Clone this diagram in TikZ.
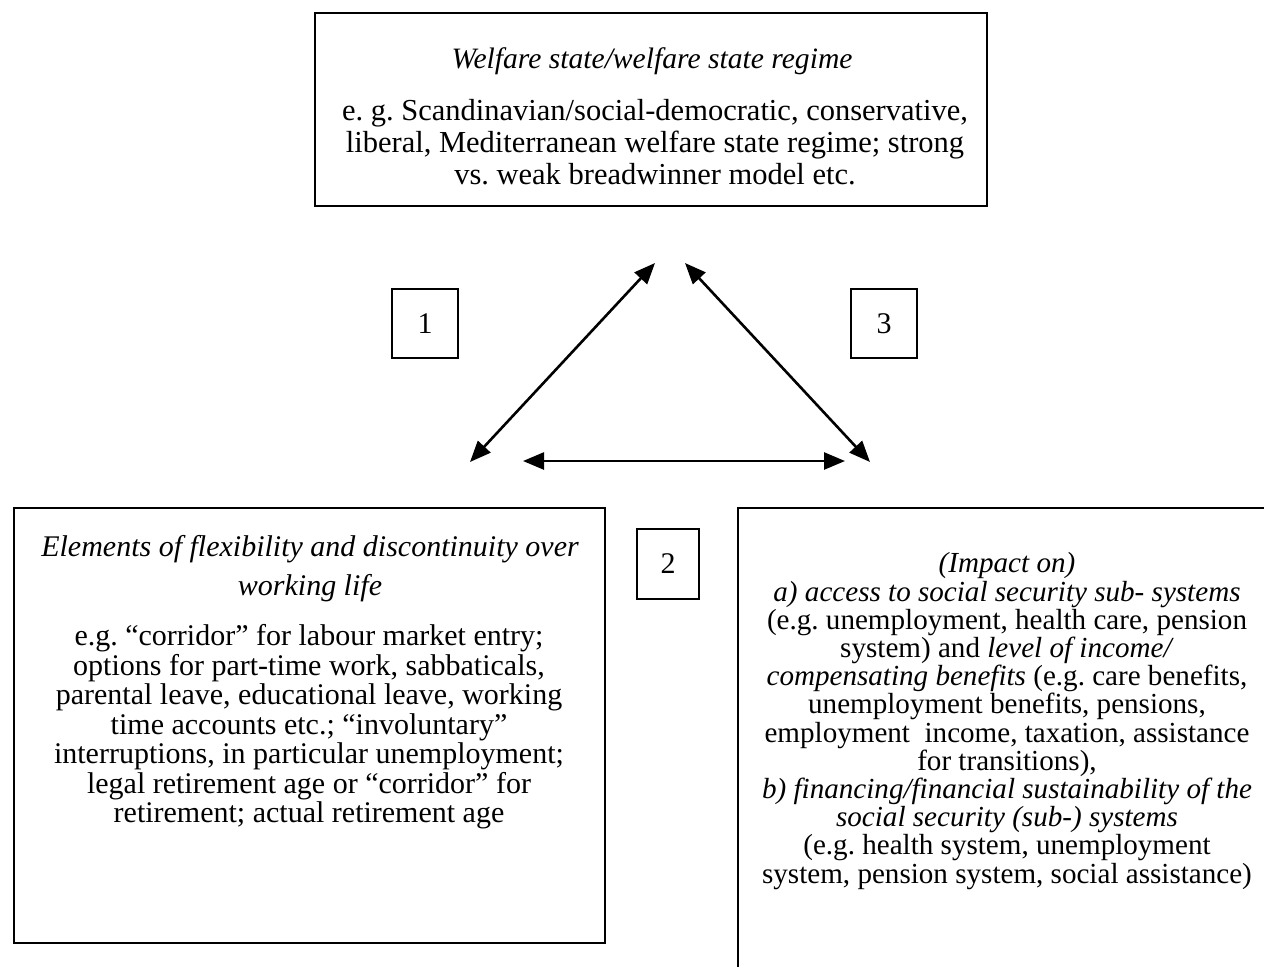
\documentclass[tikz,border=0pt]{standalone}
\usepackage{fontspec}
\setmainfont{Liberation Serif}
\usetikzlibrary{arrows.meta}
\begin{document}
\frenchspacing
\begin{tikzpicture}[x=1pt,y=-1pt,
  frame/.style={draw=black,line width=2pt},
  numbox/.style={draw=black,line width=1.6pt,minimum width=66pt,minimum height=69pt,inner sep=0pt,font={\fontsize{30}{32}\selectfont}},
  txt/.style={align=center,inner sep=0pt,font={\fontsize{30}{29.5}\selectfont}},
  rtxt/.style={align=center,inner sep=0pt,font={\fontsize{29.1}{28.2}\selectfont}},
  ttl/.style={align=center,inner sep=0pt,font={\fontsize{30}{39}\selectfont\itshape}},
  toptxt/.style={align=center,inner sep=0pt,font={\fontsize{30.5}{32}\selectfont}},
  dbl/.style={line width=2.6pt,{Triangle[length=21pt,width=17pt]}-{Triangle[length=21pt,width=17pt]}}]
\useasboundingbox (0,0) rectangle (1264,967);
% top box
\node[frame,minimum width=672pt,minimum height=193pt,inner sep=0pt] (top) at (651,109.5) {};
\node[toptxt,font={\fontsize{29.6}{32}\selectfont\itshape}] (toptitle) at (652,61) {Welfare state/welfare state regime};
\node[toptxt] (topbody) at (655,142) {e. g. Scandinavian/social-democratic, conservative,\\liberal, Mediterranean welfare state regime; strong\\vs. weak breadwinner model etc.};
% number boxes
\node[numbox] (n1) at (425,323.5) {1};
\node[numbox] (n3) at (884,323.5) {3};
\node[numbox,minimum width=62pt,minimum height=70pt] (n2) at (668,564) {2};
% left box
\node[frame,minimum width=591pt,minimum height=435pt,inner sep=0pt] (left) at (309.5,725.5) {};
\node[ttl] (lefttitle) at (310,568.5) {Elements of flexibility and discontinuity over\\working life};
\node[txt] (leftbody) at (309,727) {e.g. “corridor” for labour market entry;\\options for part-time work, sabbaticals,\\parental leave, educational leave, working\\time accounts etc.; “involuntary”\\interruptions, in particular unemployment;\\legal retirement age or “corridor” for\\retirement; actual retirement age};
% right box (cut off at the right and bottom)
\coordinate (rb1) at (738,967);
\coordinate (rb2) at (738,508);
\coordinate (rb3) at (1264,508);
\draw[line width=2pt] (rb1) -- (rb2) -- (rb3);
\node[rtxt] (righttxt) at (1007,721) {\textit{(Impact on)}\\\textit{a) access to social security sub- systems}\\(e.g. unemployment, health care, pension\\system) and \textit{level of income/}\\\textit{compensating benefits} (e.g. care benefits,\\unemployment benefits, pensions,\\employment\ \ income, taxation, assistance\\for transitions),\\\textit{b) financing/financial sustainability of the}\\\textit{social security (sub-) systems}\\(e.g. health system, unemployment\\system, pension system, social assistance)};
% arrows
\coordinate (pL) at (470,462);
\coordinate (pT1) at (655,263);
\coordinate (pT2) at (685,263);
\coordinate (pR) at (870,462);
\coordinate (hL) at (523,461);
\coordinate (hR) at (845,461);
\draw[dbl] (pL) -- (pT1);
\draw[dbl] (pT2) -- (pR);
\draw[dbl] (hL) -- (hR);
\end{tikzpicture}
\end{document}
